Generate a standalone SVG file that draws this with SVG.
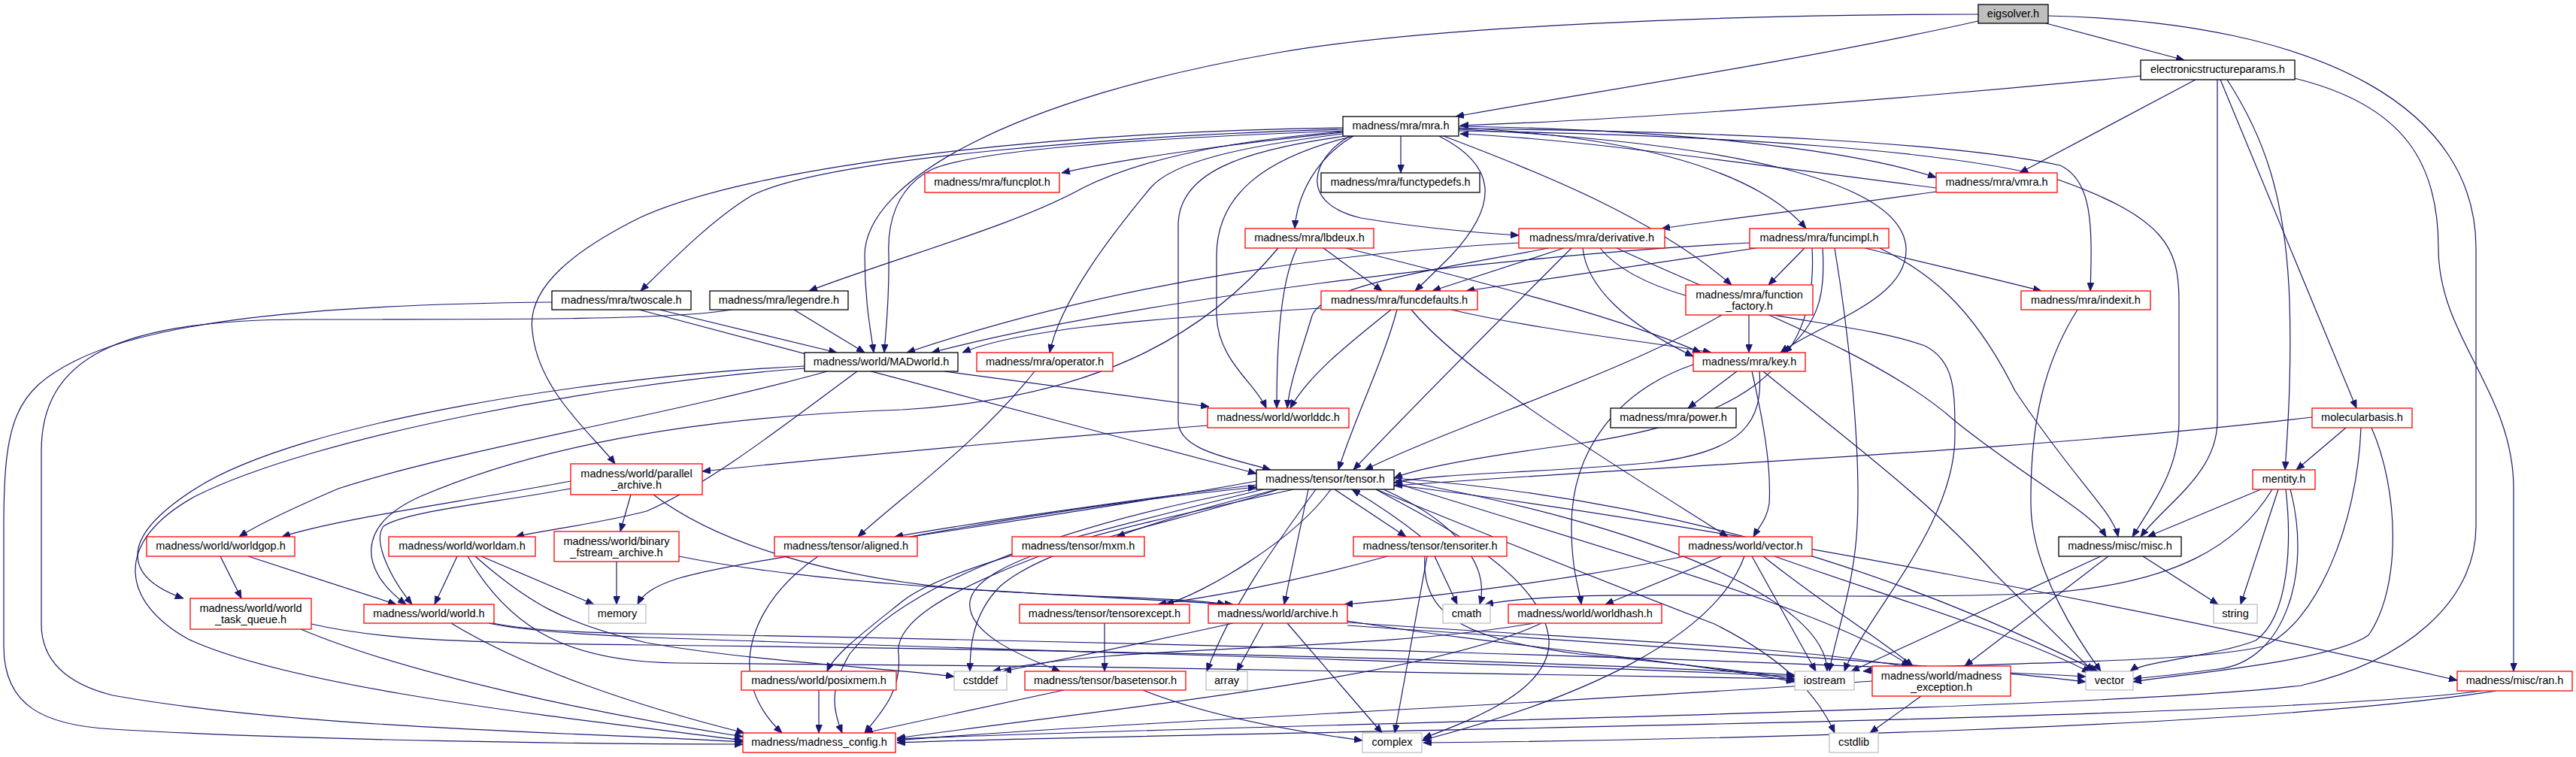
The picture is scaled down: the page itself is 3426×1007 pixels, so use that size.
<svg xmlns="http://www.w3.org/2000/svg" width="3426" height="1007" viewBox="0 0 3426 1007">
<style>
.node rect{fill:#fff;stroke-width:1.3}
.r rect{stroke:#ff0000}
.b rect{stroke:#000}
.g rect{stroke:#bfbfbf}
.node text{font-family:"Liberation Sans",Arial,sans-serif;font-size:14.5px;text-anchor:middle;fill:#000}
#edges path{fill:none;stroke:#191970;stroke-width:1.2;marker-end:url(#a)}
</style>
<defs>
<marker id="a" markerUnits="userSpaceOnUse" markerWidth="12" markerHeight="9" refX="11" refY="4.5" orient="auto" viewBox="0 0 12 9">
<path d="M0,0 L11,4.5 L0,9 z" fill="#191970" stroke="#191970" stroke-width="0.8"/>
</marker>
</defs>
<rect width="3426" height="1007" fill="#fff"/>
<g id="edges">
<path d="M2631,19 C2300,19 1900,35 1700,70 C1350,130 1150,240 1150,340 C1150,400 1158,440 1162,469"/>
<path d="M2631,28 C2400,80 2100,125 1936,155"/>
<path d="M2721,31 L2905,80"/>
<path d="M2724,21 C3100,30 3293,150 3293,330 L3293,700 C3293,800 3200,880 3060,912 C2800,945 1600,965 1193,983"/>
<path d="M2847,101 C2500,135 2150,160 1942,167"/>
<path d="M2920,106 L2686,230"/>
<path d="M2949,106 L2949,560 C2949,630 2880,670 2847,714"/>
<path d="M2962,106 C3010,180 3040,260 3045,400 C3048,500 3042,580 3039,625"/>
<path d="M2953,106 L3134,543"/>
<path d="M3051,104 C3200,140 3243,220 3243,330 C3243,450 3343,520 3343,650 L3343,893"/>
<path d="M1863,181 L1863,230"/>
<path d="M1786,176 C1650,190 1500,210 1412,230"/>
<path d="M1800,181 C1750,210 1725,260 1722,304"/>
<path d="M1795,181 C1745,210 1725,270 1810,290 C1900,305 1970,310 2020,313"/>
<path d="M1940,170 C2150,180 2330,220 2402,304"/>
<path d="M1786,172 C1500,180 1100,210 1000,260 C950,290 900,340 852,387"/>
<path d="M1786,170 C1400,175 1000,220 850,290 C770,330 700,380 708,440 C715,520 790,580 818,617"/>
<path d="M1786,175 C1600,190 1500,220 1440,250 C1350,300 1200,340 1076,387"/>
<path d="M1786,174 C1500,185 1300,200 1240,225 C1190,250 1180,300 1182,340 C1183,400 1178,440 1176,469"/>
<path d="M1786,178 C1650,195 1560,215 1530,250 C1480,310 1410,400 1396,469"/>
<path d="M1790,181 C1650,200 1567,230 1567,300 L1567,560 C1567,600 1640,610 1690,625"/>
<path d="M1800,181 C1680,210 1618,260 1618,340 L1618,420 C1620,480 1670,510 1684,543"/>
<path d="M1914,181 C1990,220 1995,270 1930,340 C1910,360 1895,375 1882,387"/>
<path d="M1920,181 C2050,230 2200,290 2303,379"/>
<path d="M1940,172 C2300,190 2530,240 2535,330 C2538,400 2420,430 2368,469"/>
<path d="M1940,171 C2300,175 2600,190 2740,220 C2783,240 2783,300 2780,387"/>
<path d="M1940,174 C2300,180 2600,200 2740,240 C2880,290 2898,330 2898,400 L2898,560 C2898,620 2870,660 2836,714"/>
<path d="M1940,168 C2200,172 2450,195 2575,236"/>
<path d="M2575,250 C2300,215 2100,185 1942,178"/>
<path d="M2575,255 C2400,280 2300,290 2210,304"/>
<path d="M1725,330 C1700,380 1698,480 1698,543"/>
<path d="M1760,330 L1838,387"/>
<path d="M1790,330 C1950,370 2150,420 2262,469"/>
<path d="M1700,330 C1600,450 1450,530 1200,545 C900,555 700,600 560,660 C470,700 480,760 540,804"/>
<path d="M2020,323 C1800,335 1500,370 1206,469"/>
<path d="M2080,330 L1905,387"/>
<path d="M2060,330 C1900,360 1760,380 1745,420 C1730,470 1715,510 1712,543"/>
<path d="M2090,330 C2000,420 1880,540 1800,625"/>
<path d="M2105,330 C2110,380 2160,430 2252,474"/>
<path d="M2150,330 C2300,400 2500,470 2600,560 C2700,640 2780,680 2801,714"/>
<path d="M2128,330 C2200,420 2450,420 2560,460 C2600,480 2600,520 2600,580 C2600,700 2480,820 2453,893"/>
<path d="M2327,323 C2000,340 1500,400 1239,469"/>
<path d="M2336,330 L1950,387"/>
<path d="M2400,330 L2352,379"/>
<path d="M2424,330 C2428,390 2420,430 2372,469"/>
<path d="M2410,330 C2420,500 2300,560 2100,590 C1950,610 1880,625 1854,636"/>
<path d="M2480,330 C2560,350 2650,370 2715,387"/>
<path d="M2500,330 C2560,360 2620,400 2680,520 C2760,640 2810,680 2817,714"/>
<path d="M2440,330 C2460,450 2475,600 2470,700 C2466,780 2440,850 2433,893"/>
<path d="M2326,419 L2326,469"/>
<path d="M2290,419 C2150,500 1950,560 1815,625"/>
<path d="M1757,410 C1500,425 1350,440 1280,469"/>
<path d="M1850,412 C1790,460 1740,500 1716,543"/>
<path d="M1858,412 C1840,480 1800,560 1780,625"/>
<path d="M1877,412 C1950,500 2150,620 2298,714"/>
<path d="M1930,412 C2050,440 2200,455 2276,469"/>
<path d="M2310,494 L2245,543"/>
<path d="M2340,494 C2345,560 2320,600 2200,615 C2050,630 1920,628 1854,642"/>
<path d="M2252,485 C2150,520 2090,600 2090,700 C2090,760 2100,780 2103,804"/>
<path d="M2330,494 C2345,560 2356,620 2353,670 C2350,690 2340,700 2332,714"/>
<path d="M2345,494 C2450,580 2560,660 2650,760 C2720,830 2760,870 2784,893"/>
<path d="M2763,412 C2720,480 2700,560 2701,670 C2701,760 2770,860 2794,893"/>
<path d="M1070,487 C800,500 400,560 260,650 C150,720 170,770 244,796"/>
<path d="M1070,490 C800,510 420,580 260,660 C150,720 160,800 250,850 C400,920 800,960 988,985"/>
<path d="M1100,494 C900,550 600,600 450,650 C380,680 340,700 318,714"/>
<path d="M1140,494 C1050,560 950,640 860,680 C780,700 720,705 686,714"/>
<path d="M1256,494 L1608,541"/>
<path d="M759,640 C600,670 450,690 375,714"/>
<path d="M759,650 C650,670 540,680 510,700 C495,720 520,770 548,804"/>
<path d="M839,658 L825,707"/>
<path d="M869,658 C950,720 1100,770 1300,785 C1450,795 1580,795 1630,804"/>
<path d="M820,747 L820,804"/>
<path d="M903,740 C1100,780 1400,790 1640,804"/>
<path d="M293,740 L321,796"/>
<path d="M330,740 L527,804"/>
<path d="M608,740 L578,804"/>
<path d="M640,740 L790,804"/>
<path d="M622,740 C680,840 760,880 900,882 C1400,885 2100,895 2387,903"/>
<path d="M632,740 C700,800 750,830 860,855 C1000,880 1200,890 1269,900"/>
<path d="M414,830 C500,850 600,855 860,858 C1500,865 2100,880 2387,898"/>
<path d="M400,837 C550,900 800,950 988,980"/>
<path d="M600,829 C700,890 850,940 990,975"/>
<path d="M650,829 C700,840 800,845 860,848 C1500,870 2100,885 2387,900"/>
<path d="M655,829 C700,838 780,842 860,843 C1600,855 2400,880 2774,900"/>
<path d="M1210,714 C1400,680 1550,660 1671,648"/>
<path d="M1671,645 C1500,665 1300,695 1190,714"/>
<path d="M1088,740 C1000,800 960,900 1040,975"/>
<path d="M1700,651 C1620,670 1550,690 1485,714"/>
<path d="M1382,740 C1250,790 1190,830 1195,870 C1200,920 1170,950 1150,975"/>
<path d="M1775,651 L1870,714"/>
<path d="M1890,714 C1860,690 1830,670 1798,651"/>
<path d="M1845,740 C1700,780 1600,795 1540,804"/>
<path d="M1908,740 L1938,804"/>
<path d="M1898,740 L1855,975"/>
<path d="M1895,740 C1890,820 1950,850 2100,870 C2250,885 2350,895 2387,905"/>
<path d="M2240,740 C2100,770 1900,795 1788,804"/>
<path d="M2290,740 L2135,804"/>
<path d="M2330,740 L2415,893"/>
<path d="M2345,740 C2420,800 2500,850 2544,886"/>
<path d="M2360,740 C2500,790 2700,850 2780,895"/>
<path d="M2320,740 C2280,850 2100,930 1891,985"/>
<path d="M2794,740 L2462,893"/>
<path d="M2804,740 L2613,886"/>
<path d="M2850,740 L2950,804"/>
<path d="M3007,651 L2856,714"/>
<path d="M3030,651 L2980,804"/>
<path d="M3022,651 C2980,720 2900,780 2700,790 C2400,800 2100,780 1975,804"/>
<path d="M3040,651 C3048,720 3045,820 3000,852 C2950,872 2850,880 2833,893"/>
<path d="M3046,651 C3075,760 3040,880 2950,890 C2900,897 2870,900 2837,903"/>
<path d="M3075,555 C2700,600 2200,620 1854,646"/>
<path d="M3120,569 L3054,625"/>
<path d="M3140,569 C3135,700 3080,830 3010,860 C2900,885 2600,880 2478,893"/>
<path d="M3154,569 C3190,650 3195,780 3150,845 C3100,880 2900,897 2837,907"/>
<path d="M3300,919 C3000,960 1500,975 1193,988"/>
<path d="M3320,919 C3000,970 2200,985 1893,988"/>
<path d="M1854,645 C2300,700 2900,820 3268,905"/>
<path d="M1770,651 C1720,720 1600,790 1550,804"/>
<path d="M1740,651 L1708,804"/>
<path d="M1840,651 C1950,700 1980,760 1968,804"/>
<path d="M1830,651 C1900,690 2050,760 2060,850 C2065,920 1950,960 1893,982"/>
<path d="M1700,651 C1550,700 1400,720 1330,780 C1290,820 1290,870 1290,893"/>
<path d="M1750,651 C1700,720 1640,800 1605,893"/>
<path d="M1854,638 C2200,700 2430,800 2430,893"/>
<path d="M1854,636 C2300,670 2600,800 2790,893"/>
<path d="M1830,651 C1950,700 2150,780 2280,830 C2380,880 2420,930 2440,975"/>
<path d="M1680,651 C1400,720 1250,760 1200,800 C1150,840 1110,870 1100,893"/>
<path d="M1671,650 C1400,700 1200,780 1130,870 C1100,920 1110,950 1120,975"/>
<path d="M1720,651 C1500,700 1300,740 1290,800 C1285,840 1350,870 1410,893"/>
<path d="M1671,640 C1400,690 1000,740 900,770 C870,780 855,790 848,804"/>
<path d="M1854,642 C2200,750 2450,820 2540,886"/>
<path d="M1469,829 L1469,893"/>
<path d="M1415,918 L1150,975"/>
<path d="M1520,918 C1600,950 1700,970 1812,985"/>
<path d="M1640,829 C1500,860 1400,880 1334,893"/>
<path d="M1680,829 L1645,893"/>
<path d="M1712,829 L1838,975"/>
<path d="M1792,826 C2000,860 2250,880 2387,907"/>
<path d="M1792,828 C2100,850 2400,860 2540,888"/>
<path d="M1792,832 C2200,860 2600,885 2774,907"/>
<path d="M2050,829 C1900,900 1500,940 1193,982"/>
<path d="M2040,829 C1800,870 1500,855 1320,893"/>
<path d="M1089,918 L1089,975"/>
<path d="M2490,906 C2000,940 1500,960 1193,985"/>
<path d="M2555,926 L2487,975"/>
<path d="M877,412 L1113,469"/>
<path d="M850,412 L1671,630"/>
<path d="M734,402 C400,405 200,430 100,480 C20,520 5,560 5,700 L5,860 C5,940 60,965 150,970 C400,985 800,990 988,990"/>
<path d="M973,412 C900,425 700,425 400,425 C150,425 55,480 55,600 L55,830 C55,880 90,910 150,925 C400,970 800,975 988,987"/>
<path d="M1056,412 L1150,469"/>
<path d="M1376,494 C1300,590 1200,660 1141,714"/>
<path d="M1606,566 C1300,590 1100,610 934,627"/>
</g>
<g id="n_eig" class="node b"><rect x="2631" y="6" width="93" height="25" style="fill:#bfbfbf"/><text x="2677.5" y="22.5">eigsolver.h</text></g>
<g id="n_esp" class="node b"><rect x="2847" y="80" width="205" height="26"/><text x="2949.5" y="97">electronicstructureparams.h</text></g>
<g id="n_mra" class="node b"><rect x="1786" y="155" width="154" height="26"/><text x="1863" y="172">madness/mra/mra.h</text></g>
<g id="n_vmra" class="node r"><rect x="2575" y="230" width="161" height="26"/><text x="2655.5" y="247">madness/mra/vmra.h</text></g>
<g id="n_ftd" class="node b"><rect x="1757" y="230" width="211" height="26"/><text x="1862.5" y="247">madness/mra/functypedefs.h</text></g>
<g id="n_fplot" class="node r"><rect x="1230" y="230" width="179" height="26"/><text x="1319.5" y="247">madness/mra/funcplot.h</text></g>
<g id="n_lbd" class="node r"><rect x="1656" y="304" width="171" height="26"/><text x="1741.5" y="321">madness/mra/lbdeux.h</text></g>
<g id="n_der" class="node r"><rect x="2020" y="304" width="194" height="26"/><text x="2117" y="321">madness/mra/derivative.h</text></g>
<g id="n_fimpl" class="node r"><rect x="2327" y="304" width="185" height="26"/><text x="2419.5" y="321">madness/mra/funcimpl.h</text></g>
<g id="n_twos" class="node b"><rect x="734" y="387" width="185" height="25"/><text x="826.5" y="403.5">madness/mra/twoscale.h</text></g>
<g id="n_leg" class="node b"><rect x="944" y="387" width="184" height="25"/><text x="1036" y="403.5">madness/mra/legendre.h</text></g>
<g id="n_fdef" class="node r"><rect x="1757" y="387" width="208" height="25"/><text x="1861" y="403.5">madness/mra/funcdefaults.h</text></g>
<g id="n_ffac" class="node r"><rect x="2242" y="379" width="169" height="40"/><text x="2326.5" y="396.5">madness/mra/function</text><text x="2326.5" y="411.5">_factory.h</text></g>
<g id="n_idx" class="node r"><rect x="2688" y="387" width="172" height="25"/><text x="2774" y="403.5">madness/mra/indexit.h</text></g>
<g id="n_madw" class="node b"><rect x="1070" y="469" width="204" height="25"/><text x="1172" y="485.5">madness/world/MADworld.h</text></g>
<g id="n_oper" class="node r"><rect x="1299" y="469" width="181" height="25"/><text x="1389.5" y="485.5">madness/mra/operator.h</text></g>
<g id="n_key" class="node r"><rect x="2252" y="469" width="149" height="25"/><text x="2326.5" y="485.5">madness/mra/key.h</text></g>
<g id="n_par" class="node r"><rect x="759" y="617" width="175" height="41"/><text x="846.5" y="634.5">madness/world/parallel</text><text x="846.5" y="650">_archive.h</text></g>
<g id="n_wdc" class="node r"><rect x="1606" y="543" width="188" height="26"/><text x="1700" y="560">madness/world/worlddc.h</text></g>
<g id="n_pow" class="node b"><rect x="2142" y="543" width="167" height="26"/><text x="2225.5" y="560">madness/mra/power.h</text></g>
<g id="n_molb" class="node r"><rect x="3075" y="543" width="133" height="26"/><text x="3141.5" y="560">molecularbasis.h</text></g>
<g id="n_tensor" class="node b"><rect x="1671" y="625" width="183" height="26"/><text x="1762.5" y="642">madness/tensor/tensor.h</text></g>
<g id="n_ment" class="node r"><rect x="2996" y="625" width="83" height="26"/><text x="3037.5" y="642">mentity.h</text></g>
<g id="n_wgop" class="node r"><rect x="195" y="714" width="197" height="26"/><text x="293.5" y="731">madness/world/worldgop.h</text></g>
<g id="n_wam" class="node r"><rect x="517" y="714" width="195" height="26"/><text x="614.5" y="731">madness/world/worldam.h</text></g>
<g id="n_bin" class="node r"><rect x="737" y="707" width="166" height="40"/><text x="820" y="724.5">madness/world/binary</text><text x="820" y="739.5">_fstream_archive.h</text></g>
<g id="n_alig" class="node r"><rect x="1030" y="714" width="190" height="26"/><text x="1125" y="731">madness/tensor/aligned.h</text></g>
<g id="n_mxm" class="node r"><rect x="1346" y="714" width="176" height="26"/><text x="1434" y="731">madness/tensor/mxm.h</text></g>
<g id="n_titer" class="node r"><rect x="1800" y="714" width="204" height="26"/><text x="1902" y="731">madness/tensor/tensoriter.h</text></g>
<g id="n_vech" class="node r"><rect x="2233" y="714" width="177" height="26"/><text x="2321.5" y="731">madness/world/vector.h</text></g>
<g id="n_misc" class="node b"><rect x="2738" y="714" width="163" height="26"/><text x="2819.5" y="731">madness/misc/misc.h</text></g>
<g id="n_wtq" class="node r"><rect x="253" y="796" width="161" height="41"/><text x="333.5" y="813.5">madness/world/world</text><text x="333.5" y="829">_task_queue.h</text></g>
<g id="n_world" class="node r"><rect x="484" y="804" width="173" height="25"/><text x="570.5" y="820.5">madness/world/world.h</text></g>
<g id="n_mem" class="node g"><rect x="783" y="804" width="76" height="25"/><text x="821" y="820.5">memory</text></g>
<g id="n_texc" class="node r"><rect x="1356" y="804" width="226" height="25"/><text x="1469" y="820.5">madness/tensor/tensorexcept.h</text></g>
<g id="n_arch" class="node r"><rect x="1607" y="804" width="185" height="25"/><text x="1699.5" y="820.5">madness/world/archive.h</text></g>
<g id="n_cmath" class="node g"><rect x="1919" y="804" width="63" height="25"/><text x="1950.5" y="820.5">cmath</text></g>
<g id="n_whash" class="node r"><rect x="2006" y="804" width="204" height="25"/><text x="2108" y="820.5">madness/world/worldhash.h</text></g>
<g id="n_string" class="node g"><rect x="2944" y="804" width="58" height="25"/><text x="2973" y="820.5">string</text></g>
<g id="n_posix" class="node r"><rect x="986" y="893" width="206" height="25"/><text x="1089" y="909.5">madness/world/posixmem.h</text></g>
<g id="n_cstddef" class="node g"><rect x="1269" y="893" width="70" height="25"/><text x="1304" y="909.5">cstddef</text></g>
<g id="n_btens" class="node r"><rect x="1363" y="893" width="214" height="25"/><text x="1470" y="909.5">madness/tensor/basetensor.h</text></g>
<g id="n_array" class="node g"><rect x="1604" y="893" width="55" height="25"/><text x="1631.5" y="909.5">array</text></g>
<g id="n_iostream" class="node g"><rect x="2387" y="893" width="79" height="25"/><text x="2426.5" y="909.5">iostream</text></g>
<g id="n_mexc" class="node r"><rect x="2490" y="886" width="184" height="40"/><text x="2582" y="903.5">madness/world/madness</text><text x="2582" y="918.5">_exception.h</text></g>
<g id="n_vector" class="node g"><rect x="2774" y="893" width="63" height="25"/><text x="2805.5" y="909.5">vector</text></g>
<g id="n_ran" class="node r"><rect x="3268" y="893" width="153" height="26"/><text x="3344.5" y="910">madness/misc/ran.h</text></g>
<g id="n_mcfg" class="node r"><rect x="988" y="975" width="203" height="26"/><text x="1089.5" y="992">madness/madness_config.h</text></g>
<g id="n_complex" class="node g"><rect x="1812" y="975" width="79" height="26"/><text x="1851.5" y="992">complex</text></g>
<g id="n_cstdlib" class="node g"><rect x="2433" y="975" width="65" height="26"/><text x="2465.5" y="992">cstdlib</text></g>
</svg>
